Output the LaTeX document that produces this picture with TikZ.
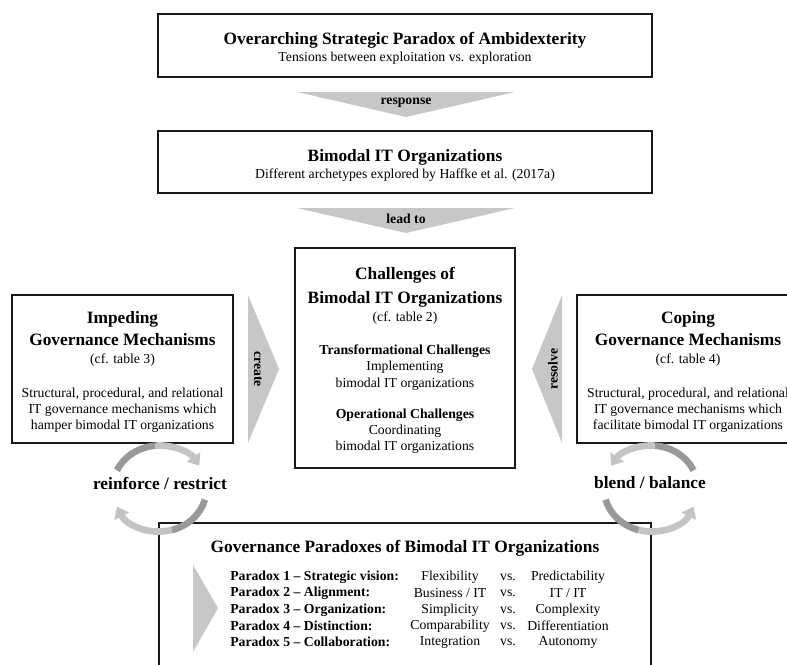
\documentclass[tikz,border=0pt]{standalone}
\usepackage{fontspec}
\setmainfont{Liberation Serif}
\usetikzlibrary{arrows.meta}
\definecolor{chevgray}{gray}{0.78}
\definecolor{cycdark}{gray}{0.6}
\definecolor{cyclight}{gray}{0.77}
\newcommand\ttl{\fontsize{13}{15.6}\selectfont\bfseries}
\newcommand\txt{\fontsize{10.3}{12.2}\selectfont}
\newcommand\topstrut[1]{\rule{0pt}{#1}}

\begin{document}
\begin{tikzpicture}[x=0.75pt,y=-0.75pt,
  box/.style={draw=black!90, line width=1.2pt, fill=white, align=center, font=\txt},
  lbl/.style={font=\txt\bfseries, inner sep=0pt},
  row/.style={font=\txt, inner sep=0pt},
  cyc/.style={line width=5pt},
  tip/.style={-{Triangle[width=12pt,length=8pt]}}]
\useasboundingbox (0,0) rectangle (787,664);
% top and bimodal boxes
\node [box, minimum width=370.5pt, minimum height=47.25pt] (top) at (405,45.5)
  {\ttl\topstrut{14pt}Overarching Strategic Paradox of Ambidexterity\\[0.6pt]Tensions between exploitation vs. exploration};
\node [box, minimum width=370.5pt, minimum height=46.5pt] (bim) at (405,162)
  {\ttl\topstrut{14pt}Bimodal IT Organizations\\[0.6pt]Different archetypes explored by Haffke et al. (2017a)};
\fill [chevgray] (297,92) -- (515,92) -- (406,117) -- cycle;
\node [lbl] (resp) at (406,103) {response};
\fill [chevgray] (297,208) -- (515,208) -- (406,233) -- cycle;
\node [lbl] (lead) at (406,219) {lead to};
% middle row
\node [box, minimum width=165pt, minimum height=165pt] (chal) at (405,358)
  {\ttl\topstrut{13pt}Challenges of\\[5.8pt]\ttl Bimodal IT Organizations\\[1.3pt](cf. table 2)\\[12.5pt]%
   \bfseries Transformational Challenges\\Implementing\\bimodal IT organizations\\[11pt]%
   \bfseries Operational Challenges\\Coordinating\\bimodal IT organizations};
\node [box, minimum width=165.75pt, minimum height=111pt] (imp) at (122.5,369)
  {\ttl\topstrut{14pt}Impeding\\[4.3pt]\ttl Governance Mechanisms\\[0.8pt](cf. table 3)\\[13.3pt]%
   Structural, procedural, and relational\\IT governance mechanisms which\\hamper bimodal IT organizations};
\node [box, minimum width=166.5pt, minimum height=111pt] (cop) at (688,369)
  {\ttl\topstrut{14pt}Coping\\[4.3pt]\ttl Governance Mechanisms\\[0.8pt](cf. table 4)\\[13.3pt]%
   Structural, procedural, and relational\\IT governance mechanisms which\\facilitate bimodal IT organizations};
\fill [chevgray] (248,295) -- (279,369) -- (248,443) -- cycle;
\node [lbl, rotate=-90] (crt) at (258,369) {create};
\fill [chevgray] (562,295) -- (532,369) -- (562,443) -- cycle;
\node [lbl, rotate=90] (res) at (553,369) {resolve};
% paradoxes box
\node [box, minimum width=369pt, minimum height=117.75pt] (par) at (405,601.5) {};
% cycles
\coordinate (lc) at (159.5,488.5);
\coordinate (rc) at (651,488.5);
\draw [cyc, cycdark] (lc) ++(155:35.25pt and 32.25pt) arc[start angle=155, end angle=95, x radius=35.25pt, y radius=32.25pt];
\draw [cyc, cyclight, tip] (lc) ++(95:35.25pt and 32.25pt) arc[start angle=95, end angle=32, x radius=35.25pt, y radius=32.25pt];
\draw [cyc, cycdark] (lc) ++(-15:35.25pt and 32.25pt) arc[start angle=-15, end angle=-75, x radius=35.25pt, y radius=32.25pt];
\draw [cyc, cyclight, tip] (lc) ++(-75:35.25pt and 32.25pt) arc[start angle=-75, end angle=-155, x radius=35.25pt, y radius=32.25pt];
\draw [cyc, cycdark] (rc) ++(25:35.25pt and 32.25pt) arc[start angle=25, end angle=85, x radius=35.25pt, y radius=32.25pt];
\draw [cyc, cyclight, tip] (rc) ++(85:35.25pt and 32.25pt) arc[start angle=85, end angle=148, x radius=35.25pt, y radius=32.25pt];
\draw [cyc, cycdark] (rc) ++(195:35.25pt and 32.25pt) arc[start angle=195, end angle=255, x radius=35.25pt, y radius=32.25pt];
\draw [cyc, cyclight, tip] (rc) ++(255:35.25pt and 32.25pt) arc[start angle=255, end angle=335, x radius=35.25pt, y radius=32.25pt];
\node [font=\ttl] (rr) at (160,483) {reinforce / restrict};
\node [font=\ttl] (bb) at (650,483) {blend / balance};
% paradoxes
\node [font=\ttl] (ptl) at (405,548) {Governance Paradoxes of Bimodal IT Organizations};
\fill [chevgray] (193,565) -- (218,608) -- (193,652) -- cycle;
\node [row, anchor=west] (p1) at (230,577) {\bfseries Paradox 1 -- Strategic vision:};
\node [row, anchor=west] (p2) at (230,593) {\bfseries Paradox 2 -- Alignment:};
\node [row, anchor=west] (p3) at (230,610) {\bfseries Paradox 3 -- Organization:};
\node [row, anchor=west] (p4) at (230,626) {\bfseries Paradox 4 -- Distinction:};
\node [row, anchor=west] (p5) at (230,642) {\bfseries Paradox 5 -- Collaboration:};
\node [row] (a1) at (450,577) {Flexibility};
\node [row] (a2) at (450,593) {Business / IT};
\node [row] (a3) at (450,610) {Simplicity};
\node [row] (a4) at (450,626) {Comparability};
\node [row] (a5) at (450,642) {Integration};
\node [row] (v1) at (508,577) {vs.};
\node [row] (v2) at (508,593) {vs.};
\node [row] (v3) at (508,610) {vs.};
\node [row] (v4) at (508,626) {vs.};
\node [row] (v5) at (508,642) {vs.};
\node [row] (b1) at (568,577) {Predictability};
\node [row] (b2) at (568,593) {IT / IT};
\node [row] (b3) at (568,610) {Complexity};
\node [row] (b4) at (568,626) {Differentiation};
\node [row] (b5) at (568,642) {Autonomy};
\end{tikzpicture}
\end{document}
